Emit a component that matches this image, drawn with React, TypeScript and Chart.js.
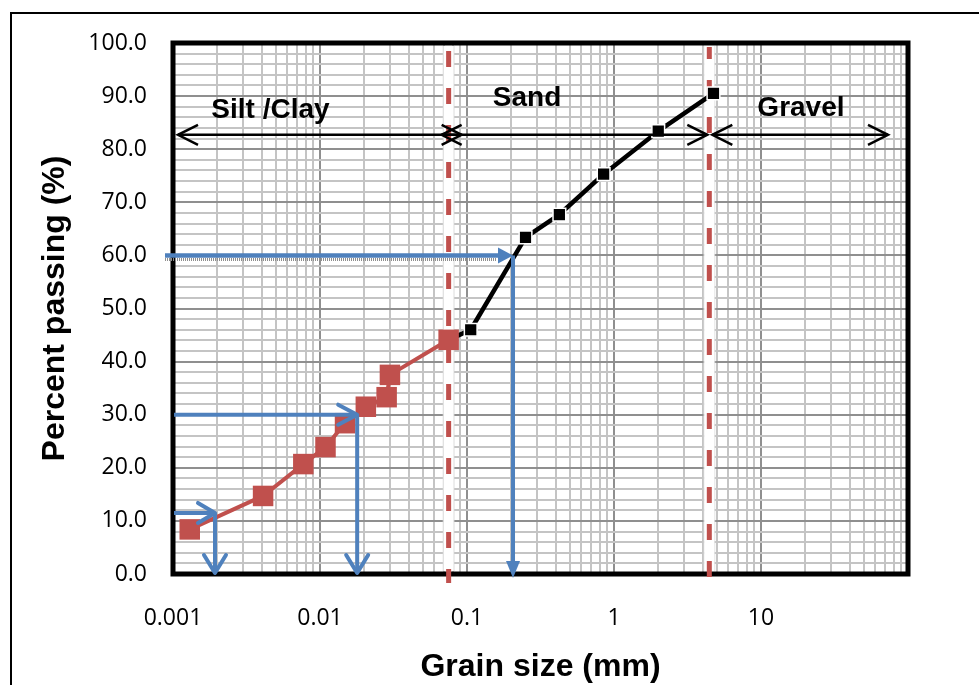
import React, { useEffect, useRef } from 'react';
import { Chart, registerables } from 'chart.js';

Chart.register(...registerables);

// ---- data ----
// hydrometer (silt / clay) results
const finesSizes = [0.0013, 0.0041, 0.0077, 0.0109, 0.0148, 0.0205, 0.0284, 0.0299, 0.075];
const finesPassing = [8.4, 14.7, 20.7, 23.9, 28.4, 31.5, 33.3, 37.5, 44.1];
// sieve (sand / gravel) results
const sieveSizes = [0.075, 0.106, 0.25, 0.425, 0.85, 2.0, 4.75];
const sievePassing = [44.1, 46.0, 63.4, 67.7, 75.3, 83.4, 90.5];

// soil-class boundaries (red dashed lines)
const boundarySizes = [0.075, 4.45];
const zoneNames = ['Silt /Clay', 'Sand', 'Gravel'];
const zoneLabelSizes = [0.0046, 0.256, 18.7];
const zoneLabelLevels = [85.8, 88.1, 86.2];
const zoneArrowLevel = 82.7;

// D60 / D30 / D10 read-offs (blue arrows)
const dLevels = [60, 30, 11.5];
const dSizes = [0.2056, 0.0179, 0.00193];

// axes
const xDecades = [0.001, 0.01, 0.1, 1, 10, 100];
const xTickLabels = ['0.001', '0.01', '0.1', '1', '10', ''];
const yTickValues = [0, 10, 20, 30, 40, 50, 60, 70, 80, 90, 100];
const yTickLabels = ['0.0', '10.0', '20.0', '30.0', '40.0', '50.0', '60.0', '70.0', '80.0', '90.0', '100.0'];

const RED = '#C0504D';
const BLUE = '#4F81BD';
const MAJOR_GRID = '#8f8f8f';
const MINOR_GRID = '#c4c4c4';

function isDecade(v: number) {
  const l = Math.log10(v);
  return Math.abs(l - Math.round(l)) < 1e-6;
}

function line(ctx: CanvasRenderingContext2D, x1: number, y1: number, x2: number, y2: number) {
  ctx.beginPath();
  ctx.moveTo(x1, y1);
  ctx.lineTo(x2, y2);
  ctx.stroke();
}

function chevron(ctx: CanvasRenderingContext2D, tx: number, ty: number, dir: 'l' | 'r' | 'd', len: number, half: number) {
  ctx.beginPath();
  if (dir === 'r') {
    ctx.moveTo(tx - len, ty - half);
    ctx.lineTo(tx, ty);
    ctx.lineTo(tx - len, ty + half);
  } else if (dir === 'l') {
    ctx.moveTo(tx + len, ty - half);
    ctx.lineTo(tx, ty);
    ctx.lineTo(tx + len, ty + half);
  } else {
    ctx.moveTo(tx - half, ty - len);
    ctx.lineTo(tx, ty);
    ctx.lineTo(tx + half, ty - len);
  }
  ctx.stroke();
}

function triangle(ctx: CanvasRenderingContext2D, tx: number, ty: number, dir: 'r' | 'd', len: number, half: number) {
  ctx.beginPath();
  if (dir === 'r') {
    ctx.moveTo(tx, ty);
    ctx.lineTo(tx - len, ty - half);
    ctx.lineTo(tx - len, ty + half);
  } else {
    ctx.moveTo(tx, ty);
    ctx.lineTo(tx - half, ty - len);
    ctx.lineTo(tx + half, ty - len);
  }
  ctx.closePath();
  ctx.fill();
}

const overlayPlugin = {
  id: 'gradingOverlay',
  beforeDatasetsDraw(chart: any) {
    const { ctx, chartArea: a, scales } = chart;
    const x = scales.x;
    ctx.save();
    // plot frame
    ctx.strokeStyle = '#000';
    ctx.lineWidth = 5;
    ctx.strokeRect(a.left, a.top, a.right - a.left, a.bottom - a.top);
    // boundary lines with a white halo
    boundarySizes.forEach((s, i) => {
      const px = x.getPixelForValue(s);
      ctx.setLineDash([]);
      ctx.strokeStyle = 'rgba(215,215,215,0.7)';
      ctx.lineWidth = 12;
      line(ctx, px, a.top + 3, px, a.bottom - 3);
      ctx.strokeStyle = '#ffffff';
      ctx.lineWidth = 10;
      line(ctx, px, a.top + 3, px, a.bottom - 3);
      ctx.strokeStyle = RED;
      ctx.lineWidth = 5;
      ctx.setLineDash([16, 21]);
      ctx.lineDashOffset = i === 0 ? 0 : 4;
      line(ctx, px, i === 0 ? a.top + 8 : a.top + 4, px, a.bottom + 9);
    });
    ctx.restore();
  },
  afterDatasetsDraw(chart: any) {
    const { ctx, chartArea: a, scales } = chart;
    const x = scales.x;
    const y = scales.y;
    ctx.save();
    ctx.setLineDash([]);

    // blue read-off arrows
    dLevels.forEach((lvl, i) => {
      const py = y.getPixelForValue(lvl);
      const px = x.getPixelForValue(dSizes[i]);
      ctx.strokeStyle = BLUE;
      ctx.fillStyle = BLUE;
      ctx.lineWidth = 4;
      ctx.lineCap = 'butt';
      if (i === 0) {
        // hatched shadow
        ctx.save();
        ctx.strokeStyle = '#8f8f8f';
        ctx.lineWidth = 3;
        ctx.setLineDash([1, 1]);
        line(ctx, a.left - 8, py + 4, px - 16, py + 4);
        ctx.restore();
        ctx.lineWidth = 4.5;
        line(ctx, a.left - 8, py, px - 13, py);
        triangle(ctx, px, py, 'r', 15, 8);
        ctx.lineWidth = 4;
        line(ctx, px, py, px, a.bottom - 12);
        triangle(ctx, px, a.bottom + 4, 'd', 17, 7);
      } else {
        line(ctx, a.left + 1, py, px, py);
        line(ctx, px, py, px, a.bottom - 1);
        ctx.lineCap = 'round';
        ctx.lineJoin = 'round';
        const len = i === 1 ? 19 : 17;
        chevron(ctx, px, py, 'r', len, 10);
        chevron(ctx, px, a.bottom - 1, 'd', 18, 11);
      }
    });

    // zone arrows
    const ay = y.getPixelForValue(zoneArrowLevel);
    const p0 = x.getPixelForValue(xDecades[0]);
    const b1 = x.getPixelForValue(boundarySizes[0]);
    const b2 = x.getPixelForValue(boundarySizes[1]);
    const pEnd = x.getPixelForValue(xDecades[xDecades.length - 1]);
    const spans: [number, number][] = [
      [p0 + 5, b1 + 13],
      [b1 - 7, b2 - 2],
      [b2 + 3, pEnd - 20],
    ];
    ctx.strokeStyle = '#000';
    ctx.lineWidth = 2.5;
    ctx.lineCap = 'butt';
    ctx.lineJoin = 'miter';
    spans.forEach(([l, r]) => {
      line(ctx, l, ay, r, ay);
      chevron(ctx, l, ay, 'l', 20, 10);
      chevron(ctx, r, ay, 'r', 20, 10);
    });

    // zone labels
    ctx.fillStyle = '#000';
    ctx.font = 'bold 28px "Liberation Sans", Arial, sans-serif';
    ctx.textAlign = 'center';
    ctx.textBaseline = 'alphabetic';
    zoneNames.forEach((n, i) => {
      ctx.fillText(n, x.getPixelForValue(zoneLabelSizes[i]), y.getPixelForValue(zoneLabelLevels[i]));
    });
    ctx.restore();
  },
  afterDraw(chart: any) {
    const { ctx, width, height } = chart;
    ctx.save();
    ctx.strokeStyle = '#000';
    ctx.lineWidth = 2;
    ctx.beginPath();
    ctx.moveTo(11, height);
    ctx.lineTo(11, 13);
    ctx.lineTo(width, 13);
    ctx.stroke();
    ctx.restore();
  },
};

export default function App() {
  const canvasRef = useRef<HTMLCanvasElement | null>(null);

  useEffect(() => {
    document.body.style.margin = '0';
    const canvas = canvasRef.current;
    if (!canvas) return;

    const xGrid: number[] = [];
    for (let d = 0; d < xDecades.length - 1; d++) {
      for (let k = 1; k <= 9; k++) xGrid.push(xDecades[d] * k);
    }
    xGrid.push(xDecades[xDecades.length - 1]);
    const yGrid: number[] = [];
    for (let v = 0; v <= 100; v += 2) yGrid.push(v);

    const chart = new Chart(canvas, {
      type: 'line',
      data: {
        datasets: [
          {
            label: 'Hydrometer',
            data: finesSizes.map((s, i) => ({ x: s, y: finesPassing[i] })),
            borderColor: RED,
            borderWidth: 4,
            backgroundColor: RED,
            pointStyle: 'rect',
            pointRadius: 14.5,
            pointBackgroundColor: RED,
            pointBorderWidth: 0,
            tension: 0,
            order: 1,
          },
          {
            label: 'Sieve',
            data: sieveSizes.map((s, i) => ({ x: s, y: sievePassing[i] })),
            borderColor: '#000',
            borderWidth: 4.5,
            backgroundColor: '#000',
            pointStyle: 'rect',
            pointRadius: (c: any) => (c.dataIndex === 0 ? 0 : 9),
            pointBackgroundColor: '#000',
            pointBorderColor: '#fff',
            pointBorderWidth: 1.5,
            tension: 0,
            order: 2,
          },
        ] as any,
      },
      options: {
        animation: false,
        responsive: false,
        devicePixelRatio: 1,
        layout: { padding: { left: 0, top: 43, right: 71, bottom: 0 } },
        plugins: { legend: { display: false }, tooltip: { enabled: false } },
        elements: { line: { borderJoinStyle: 'round' } },
        scales: {
          x: {
            type: 'logarithmic',
            min: 0.001,
            max: 100,
            afterBuildTicks: (s: any) => {
              s.ticks = xGrid.map((v) => ({ value: v }));
            },
            afterFit: (s: any) => {
              s.height = 111;
            },
            border: { display: false },
            grid: {
              drawTicks: false,
              color: (c: any) => (c.tick && isDecade(c.tick.value) ? MAJOR_GRID : MINOR_GRID),
              lineWidth: 2,
            },
            ticks: {
              autoSkip: false,
              maxRotation: 0,
              padding: 31,
              color: '#000',
              font: { family: '"Open Sans", sans-serif', size: 23 },
              callback: (v: any) => {
                const idx = xDecades.findIndex((d) => Math.abs(d - Number(v)) / d < 1e-6);
                return idx >= 0 ? xTickLabels[idx] : '';
              },
            },
            title: {
              display: true,
              text: 'Grain size (mm)',
              color: '#000',
              font: { family: '"Liberation Sans", Arial, sans-serif', size: 32, weight: 'bold', lineHeight: 1.1 },
              padding: { top: 0, bottom: 0 },
            },
          },
          y: {
            type: 'linear',
            min: 0,
            max: 100,
            afterBuildTicks: (s: any) => {
              s.ticks = yGrid.map((v) => ({ value: v }));
            },
            afterFit: (s: any) => {
              s.width = 173;
            },
            border: { display: false },
            grid: {
              drawTicks: false,
              color: (c: any) => (c.tick && c.tick.value % 10 === 0 ? MAJOR_GRID : MINOR_GRID),
              lineWidth: 2,
            },
            ticks: {
              autoSkip: false,
              padding: 26,
              color: '#000',
              font: { family: '"Open Sans", sans-serif', size: 23 },
              callback: (v: any) => {
                const idx = yTickValues.indexOf(Number(v));
                return idx >= 0 ? yTickLabels[idx] : '';
              },
            },
            title: {
              display: true,
              text: 'Percent passing (%)',
              color: '#000',
              font: { family: '"Liberation Sans", Arial, sans-serif', size: 32, weight: 'bold', lineHeight: 1.1 },
              padding: { top: 38, bottom: 0 },
            },
          },
        },
      } as any,
      plugins: [overlayPlugin],
    });

    return () => chart.destroy();
  }, []);

  return (
    <div style={{ width: 979, height: 685, position: 'relative', overflow: 'hidden' }}>
      <canvas ref={canvasRef} width={979} height={685} style={{ display: 'block', width: 979, height: 685 }} />
    </div>
  );
}
